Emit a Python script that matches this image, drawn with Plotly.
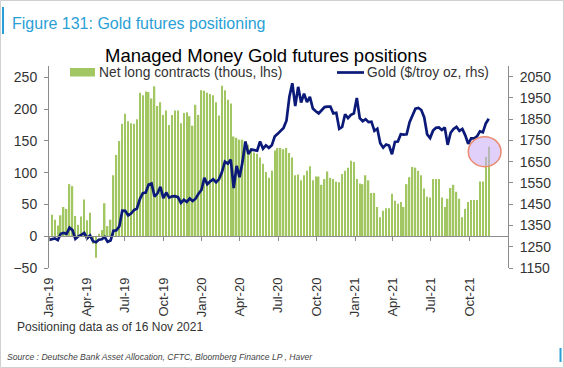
import plotly.graph_objects as go
import pandas as pd

# ---------------- data ----------------
# Managed money net long gold futures, thousand contracts, weekly (Tuesdays) from 8 Jan 2019
net_long_2019 = [34, 26, 17, 33, 46, 43, 82, 79, 32, 18,
                 31, 58, 25, 37, -12, -34, 4, 10, 52, 16,
                 26, 96, 128, 150, 177, 193, 181, 178, 177, 184,
                 226, 222, 228, 227, 217, 236, 205, 211, 191, 198,
                 175, 191, 198, 198, 178, 194, 195, 189, 174, 207,
                 191, 230]
net_long_2020 = [229, 226, 224, 222, 211, 190, 237, 230,
                 215, 209, 157, 155, 152, 152, 145, 144, 139, 132,
                 130, 124, 114, 101, 92, 103, 135, 139, 139, 137,
                 139, 131, 124, 96, 97, 88, 96, 103, 110, 88,
                 94, 94, 81, 90, 102, 92, 90, 86, 85, 98,
                 103, 108, 119, 117]
net_long_2021 = [90, 83, 82, 96, 88, 68,
                 68, 46, 30, 40, 44, 44, 67, 56, 51, 54,
                 46, 82, 93, 109, 108, 103, 96, 75, 62, 61,
                 90, 90, 90, 61, 46, 59, 76, 81, 70, 59,
                 30, 43, 54, 57, 57, 57, 86, 86, 125, 141]

# Gold price, $/troy oz, weekly from 1 Jan 2019
gold_2019 = [1282, 1285, 1289, 1281, 1311, 1315, 1311, 1340, 1328, 1287,
             1299, 1306, 1315, 1290, 1303, 1276, 1271, 1283, 1285, 1296,
             1273, 1279, 1325, 1327, 1346, 1420, 1419, 1397, 1406, 1423,
             1430, 1474, 1502, 1505, 1542, 1547, 1486, 1501, 1532, 1479,
             1505, 1481, 1487, 1488, 1483, 1456, 1471, 1461, 1477, 1465,
             1476, 1499, 1517]
gold_2020 = [1574, 1544, 1558, 1567, 1553, 1568, 1601, 1650, 1641, 1660,
             1526, 1630, 1577, 1648, 1745, 1686, 1707, 1705, 1702, 1745,
             1711, 1727, 1715, 1727, 1768, 1781, 1795, 1809, 1843, 1955,
             2019, 1912, 2002, 1928, 1970, 1930, 1955, 1900, 1887, 1877,
             1892, 1907, 1909, 1909, 1877, 1880, 1805, 1814, 1873, 1855,
             1870, 1877]
gold_2021 = [1950, 1855, 1840, 1850, 1836, 1838, 1795, 1805, 1737, 1716,
             1731, 1726, 1685, 1743, 1745, 1779, 1777, 1779, 1836, 1868,
             1899, 1903, 1893, 1858, 1778, 1761, 1796, 1809, 1811, 1799,
             1811, 1729, 1786, 1804, 1814, 1795, 1804, 1774, 1734, 1760,
             1760, 1769, 1793, 1788, 1830, 1852]

left_ticks = [-50, 0, 50, 100, 150, 200, 250]
right_ticks = [1150, 1250, 1350, 1450, 1550, 1650, 1750, 1850, 1950, 2050]

net_long = net_long_2019 + net_long_2020 + net_long_2021
gold = gold_2019 + gold_2020 + gold_2021
bar_dates = pd.date_range("2019-01-08", periods=len(net_long), freq="7D")
gold_dates = pd.date_range("2019-01-01", periods=len(gold), freq="7D")
quarter_ticks = pd.date_range("2019-01-01", "2021-10-01", freq="QS")
x_range = ["2019-01-01", "2022-01-01"]

# ---------------- style ----------------
GREEN = "#a2c762"
NAVY = "#0b1a78"
BLUE = "#2a9fd6"
AXIS = "#8c8c8c"
TXT = "#333333"
FONT = "Liberation Sans, Arial, sans-serif"

W, H = 564, 368
L, R, T, B = 49, 508, 66, 268


def px(x):
    return (x - L) / (R - L)


def py(y):
    return (B - y) / (B - T)


fig = go.Figure()
fig.add_trace(go.Bar(x=bar_dates, y=net_long, marker=dict(color=GREEN, line_width=0),
                     name="Net long contracts (thous, lhs)", showlegend=False))
fig.add_trace(go.Scatter(x=gold_dates, y=gold, yaxis="y2", mode="lines",
                         line=dict(color=NAVY, width=2.7),
                         name="Gold ($/troy oz, rhs)", showlegend=False))
fig.add_trace(go.Scatter(x=[], y=[], xaxis="x2", showlegend=False, hoverinfo="skip"))

y_lo, y_hi = -50, 268
zero_pos = (0 - y_lo) / (y_hi - y_lo)

fig.update_layout(
    width=W, height=H,
    margin=dict(l=L, r=W - R, t=T, b=H - B, autoexpand=False),
    paper_bgcolor="white", plot_bgcolor="white",
    font=dict(family=FONT, color=TXT),
    bargap=0.5,
    showlegend=False,
    xaxis=dict(type="date", range=x_range, tickvals=quarter_ticks, tickformat="%b-%y",
               tickangle=-90, showline=False, ticks="", showgrid=False, zeroline=False,
               tickfont=dict(size=13, color=TXT), ticklabelstandoff=6),
    xaxis2=dict(type="date", range=x_range, overlaying="x", anchor="free", position=zero_pos,
                tickvals=list(quarter_ticks) + [pd.Timestamp("2022-01-01")],
                showticklabels=False, ticks="outside", ticklen=4, tickcolor=AXIS,
                showline=True, linecolor=AXIS, linewidth=1, showgrid=False, zeroline=False),
    yaxis=dict(range=[y_lo, y_hi], tickvals=left_ticks, showgrid=False, zeroline=False,
               showline=True, linecolor=AXIS, ticks="outside", ticklen=4, tickcolor=AXIS,
               tickfont=dict(size=14, color=TXT), ticklabelstandoff=4),
    yaxis2=dict(range=[1150, 2100], tickvals=right_ticks, overlaying="y", side="right",
                showgrid=False, zeroline=False, showline=True, linecolor=AXIS,
                ticks="outside", ticklen=4, tickcolor=AXIS,
                tickfont=dict(size=14, color=TXT), ticklabelstandoff=4),
)

ann = [
    dict(text="Figure 131: Gold futures positioning", x=px(10), y=py(23.5),
         font=dict(size=16, color=BLUE)),
    dict(text="Managed Money Gold futures positions", x=px(103), y=py(55.5),
         font=dict(size=18.5, color="#000000")),
    dict(text="Net long contracts (thous, lhs)", x=px(97), y=py(72.5),
         font=dict(size=13.8, color=TXT)),
    dict(text="Gold ($/troy oz, rhs)", x=px(365), y=py(72.5),
         font=dict(size=13.8, color=TXT)),
    dict(text="Positioning data as of 16 Nov 2021", x=px(15), y=py(327),
         font=dict(size=12, color=TXT)),
    dict(text="<i>Source : Deutsche Bank Asset Allocation, CFTC, Bloomberg Finance LP , Haver</i>",
         x=px(5), y=py(357), font=dict(size=8.6, color="#444444")),
]
for a in ann:
    fig.add_annotation(xref="paper", yref="paper", xanchor="left", yanchor="middle",
                       showarrow=False, **a)

shapes = [
    # frame
    dict(type="rect", x0=px(0.5), x1=px(563.5), y0=py(367.5), y1=py(0.5),
         line=dict(color="#d0d0d0", width=1), fillcolor="rgba(0,0,0,0)", layer="below"),
    dict(type="line", x0=px(3), x1=px(3), y0=py(7), y1=py(34), line=dict(color=BLUE, width=2)),
    dict(type="line", x0=px(560.5), x1=px(560.5), y0=py(348), y1=py(362),
         line=dict(color=BLUE, width=2)),
    # legend swatches
    dict(type="rect", x0=px(70), x1=px(95), y0=py(76.5), y1=py(68),
         fillcolor=GREEN, line=dict(width=0)),
    dict(type="line", x0=px(337), x1=px(364), y0=py(72.5), y1=py(72.5),
         line=dict(color=NAVY, width=2.7)),
    # highlight circle
    dict(type="circle", x0=px(468.3), x1=px(501), y0=py(166.7), y1=py(136.7),
         fillcolor="rgba(200,170,245,0.55)", line=dict(color="#ec8a6e", width=1.5),
         layer="above"),
]
for s in shapes:
    fig.add_shape(xref="paper", yref="paper", **s)

fig.write_html("out.html", config={"displayModeBar": False},
               post_script="document.body.style.margin='0';document.body.style.overflow='hidden';")
